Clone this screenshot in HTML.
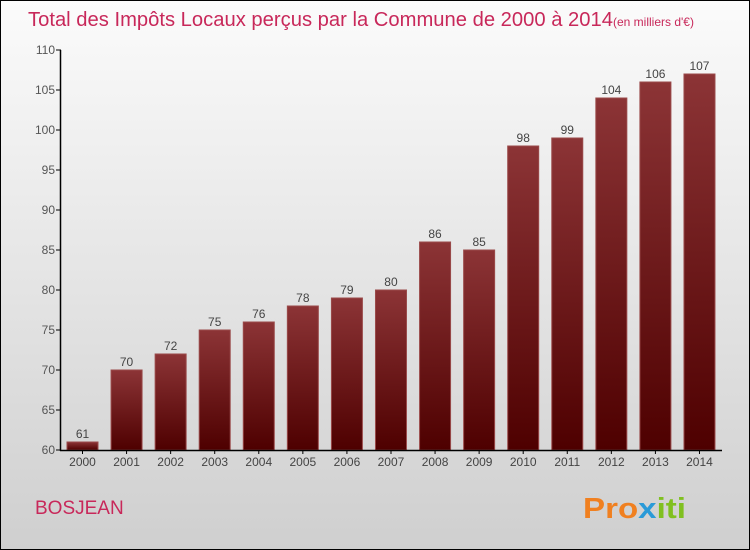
<!DOCTYPE html>
<html><head><meta charset="utf-8"><style>
body{margin:0;width:750px;height:550px;overflow:hidden}
#wrap{position:absolute;left:0;top:0;width:748px;height:548px;border:1px solid #000;background:linear-gradient(#fbfbfb,#cfcfcf)}
text{font-family:"Liberation Sans",sans-serif}
</style></head><body>
<div id="wrap">
<svg id="svg" width="750" height="550" style="position:absolute;left:-1px;top:-1px">
<defs>
<linearGradient id="bg" x1="0" y1="0" x2="0" y2="1"><stop offset="0" stop-color="#8c3436"/><stop offset="1" stop-color="#4e0000"/></linearGradient>
</defs>
<text x="28" y="26" font-size="20" fill="#c8285a"><tspan textLength="585" lengthAdjust="spacingAndGlyphs">Total des Impôts Locaux perçus par la Commune de 2000 à 2014</tspan><tspan font-size="12">(en milliers d'€)</tspan></text>
<text x="35" y="514" font-size="19" fill="#c8285a">BOSJEAN</text>
<text x="583" y="518" font-size="29" font-weight="bold" fill="#f08020" textLength="103" lengthAdjust="spacingAndGlyphs">Pro<tspan fill="#2a9ad8">x</tspan><tspan fill="#80c020">iti</tspan></text>
<g id="plot"></g>
</svg>
</div>
<script>
const years=['2000','2001','2002','2003','2004','2005','2006','2007','2008','2009','2010','2011','2012','2013','2014'];
const values=[61,70,72,75,76,78,79,80,86,85,98,99,104,106,107];
const yTicks=[60,65,70,75,80,85,90,95,100,105,110];
const ns='http://www.w3.org/2000/svg';
const g=document.getElementById('plot');
const y=v=>450-(v-60)*8;
const x=i=>67+i*44.07;
function mk(t,a){const e=document.createElementNS(ns,t);for(const k in a)e.setAttribute(k,a[k]);g.appendChild(e);return e;}
yTicks.forEach(v=>{
 const l=mk('line',{x1:56,x2:61,y1:y(v),y2:y(v),stroke:'#000'});
 
 
 const t=mk('text',{x:55,y:y(v)+4,'font-size':12,fill:'#555','text-anchor':'end'});
 t.textContent=v;
 
 
});
values.forEach((v,i)=>{
 const r=mk('rect',{x:x(i),y:y(v),width:31,height:450-y(v),fill:'url(#bg)',stroke:'#9a4a4a','stroke-width':1});
 
 
 const t=mk('text',{x:x(i)+15.5,y:y(v)-4,'font-size':12,fill:'#444','text-anchor':'middle'});
 t.textContent=v;
 
 
 const xl=mk('text',{x:x(i)+15.5,y:466,'font-size':12,fill:'#444','text-anchor':'middle'});
 xl.textContent=years[i];
 
 
 const tk=mk('line',{x1:x(i)+15.5,x2:x(i)+15.5,y1:450,y2:454,stroke:'#000'});
 
 
});
const ya=mk('line',{x1:60.5,x2:60.5,y1:50,y2:451,stroke:'#000','stroke-width':1.5});


const xa=mk('line',{x1:60,x2:722,y1:450.5,y2:450.5,stroke:'#000','stroke-width':1.5});


</script>
</body></html>
